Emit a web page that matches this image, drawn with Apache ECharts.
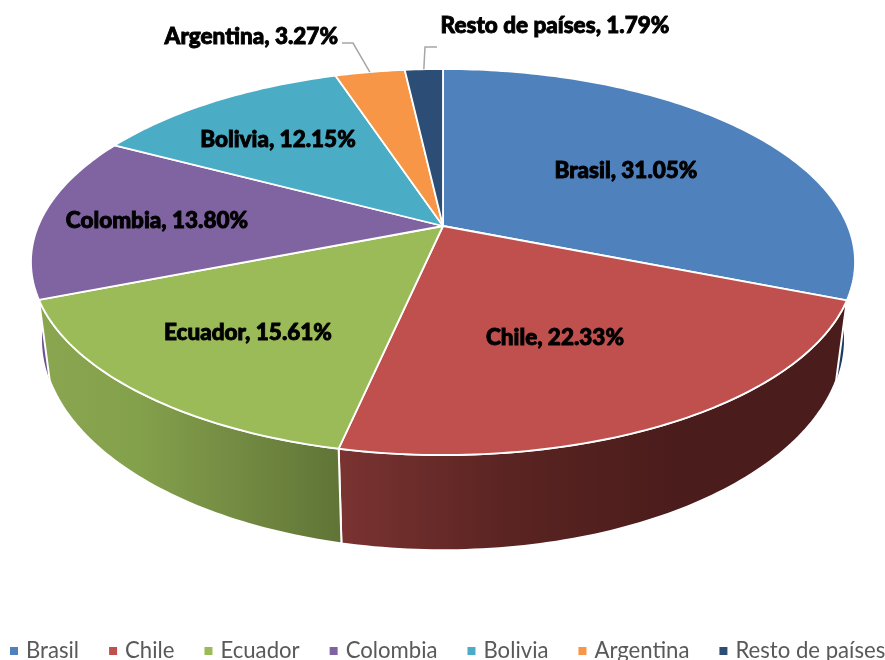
<!DOCTYPE html>
<html>
<head>
<meta charset="utf-8">
<style>
  html, body { margin: 0; padding: 0; background: #fff; overflow: hidden; }
  #chart { width: 885px; height: 660px; }
</style>
<script src="https://cdn.jsdelivr.net/npm/echarts@6/dist/echarts.min.js"></script>
</head>
<body>
<div id="chart"></div>
<script>
const categories = ['Brasil', 'Chile', 'Ecuador', 'Colombia', 'Bolivia', 'Argentina', 'Resto de países'];
const shares = [31.05, 22.33, 15.61, 13.80, 12.15, 3.27, 1.79];
const colors = ['#4F81BD', '#C0504D', '#9BBB59', '#8064A2', '#4BACC6', '#F79646', '#2C4D75'];

// side wall shading, left to right
const wallColors = [
  ['#1d3b60', '#1d3b60'],
  ['#7a3331', '#5a2422', '#4a1c1b', '#4a1c1b'],
  ['#8ba650', '#83a04b', '#738a42', '#5f7436'],
  ['#6d5190', '#6d5190'],
];

// where each label sits, anchor is the text alignment
const labelSpots = [
  { x: 626, y: 171, align: 'center' },
  { x: 555, y: 338, align: 'center' },
  { x: 248, y: 333, align: 'center' },
  { x: 157, y: 221, align: 'center' },
  { x: 278, y: 140, align: 'center' },
  { x: 338, y: 37, align: 'right', elbow: [[342, 43], [353, 43]] },
  { x: 555, y: 26, align: 'center', elbow: [[437, 47], [425, 47]] },
];

// tilted pie: the circle goes through a perspective projection
const topFace = { cx: 443, cy: 226, a: 404.8, b: 186.3, k: 0.1865 };
const bottomFace = { cx: 443, cy: 299.5, a: 394, b: 204, k: 0.1865 };

function project(face, deg) {
  const rad = deg * Math.PI / 180;
  const u = Math.sin(rad);
  const v = Math.cos(rad);
  const w = 1 + face.k * v;
  return [face.cx + face.a * u / w, face.cy - face.b * v / w];
}

function arc(face, from, to) {
  const pts = [];
  const steps = Math.max(2, Math.ceil(Math.abs(to - from)));
  for (let i = 0; i <= steps; i++) {
    pts.push(project(face, from + (to - from) * i / steps));
  }
  return pts;
}

function startOf(index) {
  let sum = 0;
  for (let i = 0; i < index; i++) sum += shares[i];
  return sum * 3.6;
}

function renderSlice(params, api) {
  const i = params.seriesIndex;
  const value = api.value(0);
  const start = startOf(i);
  const end = start + value * 3.6;
  const children = [];

  // only the front of the wall can be seen
  const wallFrom = Math.max(start, 80);
  const wallTo = Math.min(end, 280);
  if (wallFrom < wallTo && wallColors[i]) {
    const front = i === 1 || i === 2;
    const stops = wallColors[i].map((color, n, all) => ({ offset: n / (all.length - 1), color }));
    const leftToRight = { type: 'linear', x: 0, y: 0, x2: 1, y2: 0, colorStops: stops };
    children.push({
      type: 'polygon',
      z2: front ? 2 : 1,
      shape: { points: arc(topFace, wallFrom, wallTo).concat(arc(bottomFace, wallTo, wallFrom)) },
      style: { fill: leftToRight, stroke: front ? '#fff' : 'none', lineWidth: 2, lineJoin: 'round' },
    });
  }

  children.push({
    type: 'polygon',
    z2: 3,
    shape: { points: [[topFace.cx, topFace.cy]].concat(arc(topFace, start, end)) },
    style: { fill: colors[i], stroke: '#fff', lineWidth: 1.8, lineJoin: 'round' },
  });

  const spot = labelSpots[i];
  if (spot.elbow) {
    children.push({
      type: 'polyline',
      z2: 4,
      shape: { points: spot.elbow.concat([project(topFace, (start + end) / 2)]) },
      style: { fill: 'none', stroke: '#a6a6a6', lineWidth: 1.5 },
    });
  }
  children.push({
    type: 'text',
    z2: 5,
    style: {
      text: `${categories[i]}, ${value.toFixed(2)}%`,
      x: spot.x,
      y: spot.y,
      align: spot.align,
      verticalAlign: 'middle',
      fill: '#000',
      stroke: '#000',
      lineWidth: 0.9,
      font: '900 22.5px Lato',
    },
  });

  return { type: 'group', children };
}

const chart = echarts.init(document.getElementById('chart'));
chart.setOption({
  animation: false,
  backgroundColor: '#fff',
  legend: {
    left: 10,
    top: 640,
    width: 950,
    padding: 0,
    itemWidth: 8,
    itemHeight: 8,
    itemGap: 30,
    icon: 'rect',
    data: categories,
    textStyle: { color: '#595959', fontFamily: 'Lato', fontSize: 22.15, padding: [0, 0, 0, 3] },
  },
  series: categories.map((name, i) => ({
    type: 'custom',
    name,
    coordinateSystem: 'none',
    itemStyle: { color: colors[i] },
    renderItem: renderSlice,
    data: [[shares[i]]],
  })),
});
</script>
</body>
</html>
